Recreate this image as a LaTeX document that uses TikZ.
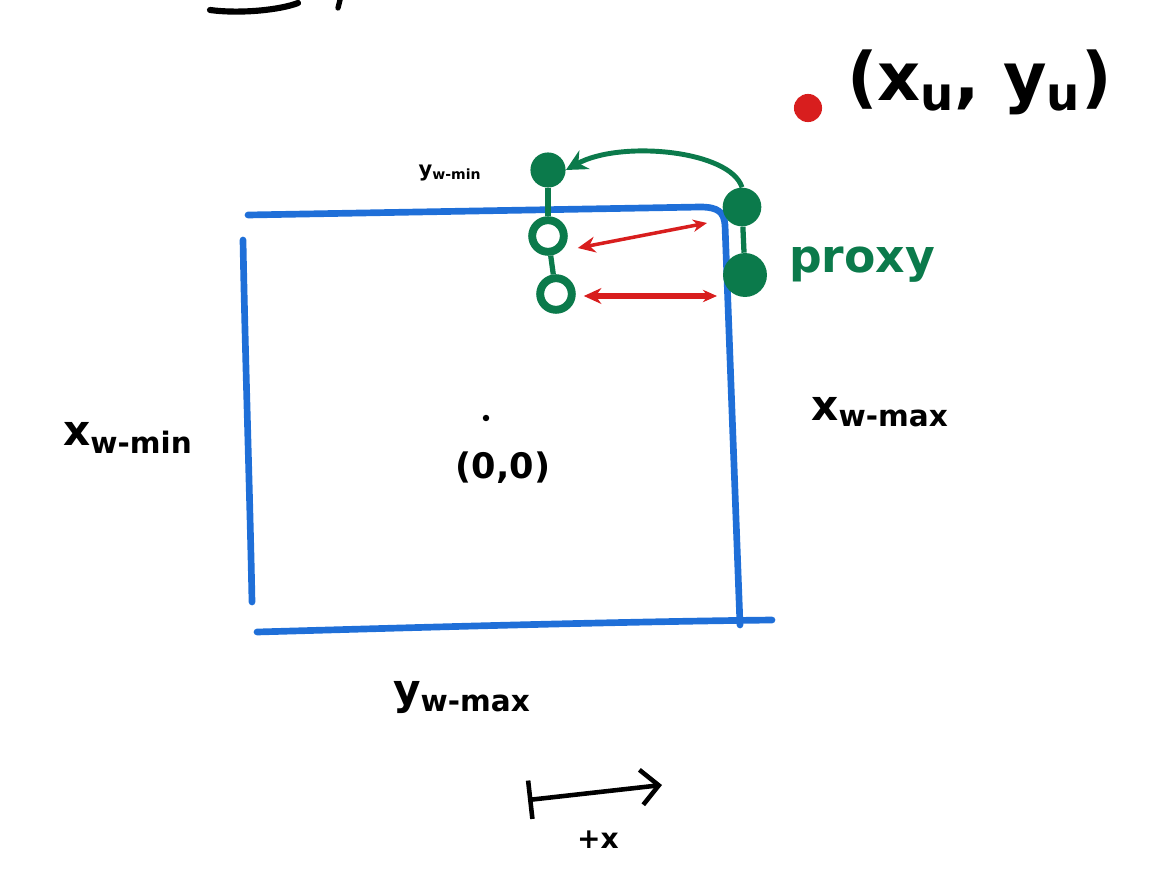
\documentclass[tikz,border=0pt]{standalone}
\usetikzlibrary{arrows.meta}
\usepackage{fontspec}
\setmainfont{DejaVu Sans}
\definecolor{wblue}{HTML}{1F6FD8}
\definecolor{pgreen}{HTML}{0B7A4B}
\definecolor{ured}{HTML}{D81E1E}
\begin{document}
\begin{tikzpicture}[x=0.02cm,y=-0.02cm,
  bl/.style={wblue,line width=3.8pt,line cap=round},
  gfill/.style={circle,fill=pgreen,inner sep=0pt,minimum size=#1},
  ghol/.style={circle,draw=pgreen,line width=4.5pt,inner sep=0pt,minimum size=#1},
  rarr/.style={ured,line width=#1,{Stealth[length=10pt,width=9pt]}-{Stealth[length=8pt,width=7pt]}},
  lbl/.style={font=\bfseries\fontsize{16}{18}\selectfont,inner sep=1pt},
]
\useasboundingbox (0,0) rectangle (1149,872);
% fragment of text cut at the top
\draw[line width=3.5pt,line cap=round] (210,10) .. controls (240,14) and (280,10) .. (298,3);
\draw[line width=3pt,line cap=round] (340,0) -- (338,8);
% window edges
\coordinate (tl) at (248,215);
\coordinate (br) at (740,625);
\draw[bl] (tl) -- (700,207) .. controls (718,207) and (724,212) .. (725,225) -- (br);
\draw[bl] (243,240) .. controls (245,350) and (250,500) .. (252,602);
\draw[bl] (257,632) .. controls (400,628) and (600,622) .. (772,620);
% origin
\node[circle,fill=black,inner sep=1.3pt] (o) at (486,418) {};
\node[lbl,font=\bfseries\fontsize{20}{22}\selectfont] (ol) at (503,468) {(0,0)};
% labels
\node[lbl,font=\bfseries\fontsize{24}{26}\selectfont] (xmin) at (128,438) {x\textsubscript{w-min}};
\node[lbl,font=\bfseries\fontsize{24}{26}\selectfont] (xmax) at (880,412) {x\textsubscript{w-max}};
\node[lbl,font=\bfseries\fontsize{24}{26}\selectfont] (ymax) at (462,698) {y\textsubscript{w-max}};
\node[lbl,font=\bfseries\fontsize{12}{14}\selectfont] (ymin) at (450,173) {y\textsubscript{w-min}};
% user point
\node[circle,fill=ured,inner sep=0pt,minimum size=16pt] (u) at (808,108) {};
\node[lbl,font=\bfseries\fontsize{38}{42}\selectfont,anchor=west] (ul) at (845,82) {(x\textsubscript{u}, y\textsubscript{u})};
% proxy points
\node[gfill=20pt] (p1) at (548,170) {};
\node[ghol=18pt] (p2) at (548,236) {};
\node[ghol=18pt] (p3) at (556,294) {};
\node[gfill=22pt] (q1) at (742,207) {};
\node[gfill=25pt] (q2) at (745,275) {};
\draw[pgreen,line width=3pt] (p1) -- (p2);
\draw[pgreen,line width=3pt] (p2) -- (p3);
\draw[pgreen,line width=3pt] (q1) -- (q2);
\draw[pgreen,line width=2.8pt,-{Stealth[length=12pt,width=12pt]}] (q1.north) .. controls (730,150) and (620,140) .. (p1.east);
\node[lbl,text=pgreen,font=\bfseries\fontsize{26}{28}\selectfont] (proxy) at (862,265) {proxy};
% mapping arrows
\draw[rarr=2pt] (p2.east) ++(10,12) coordinate (a1) (a1) -- (707,223);
\draw[rarr=3.2pt] (p3.east) ++(8,2) coordinate (a2) (a2) -- (717,296);
% axis direction
\coordinate (ax0) at (528,800);
\coordinate (ax1) at (662,785);
\draw[line width=2.6pt,{Bar[width=22pt]}-{Straight Barb[length=10pt,width=20pt]}] (ax0) -- (ax1);
\node[lbl,font=\bfseries\fontsize{16}{18}\selectfont] (px) at (598,840) {+x};
\end{tikzpicture}
\end{document}
